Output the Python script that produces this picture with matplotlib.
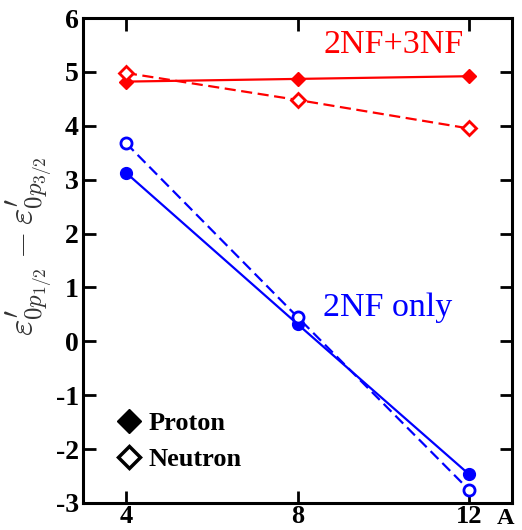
import matplotlib
matplotlib.use("Agg")
import matplotlib.pyplot as plt
from matplotlib.lines import Line2D

plt.rcParams['font.family'] = ['Liberation Serif', 'DejaVu Serif']
plt.rcParams['mathtext.fontset'] = 'cm'

# Data
mass_A = [4, 8, 12]
red_proton = [4.82, 4.87, 4.92]
red_neutron = [4.98, 4.48, 3.95]
blue_proton = [3.13, 0.32, -2.47]
blue_neutron = [3.68, 0.45, -2.76]

yticks = [-3, -2, -1, 0, 1, 2, 3, 4, 5, 6]
ytick_labels = ['-3', '-2', '-1', '0', '1', '2', '3', '4', '5', '6']

lw = 1.6
fig = plt.figure(figsize=(5.22, 5.30), dpi=100)
ax = fig.add_axes([0.159, 0.051, 0.822, 0.915])

red = '#ff0000'
blue = '#0000ff'
dash = (0, (5, 2.5))

ax.plot(mass_A, red_proton, color=red, lw=lw, marker='D', ms=7.5, mfc=red, mec=red)
ax.plot(mass_A, red_neutron, color=red, lw=lw, ls=dash, marker='D', ms=7,
        mfc='white', mec=red, mew=2)
ax.plot(mass_A, blue_proton, color=blue, lw=lw, marker='o', ms=8.5, mfc=blue, mec=blue)
ax.plot(mass_A, blue_neutron, color=blue, lw=lw, ls=dash, marker='o', ms=8,
        mfc='white', mec=blue, mew=2)

ax.text(0.561, 0.928, '2NF+3NF', color=red, fontsize=24.5, transform=ax.transAxes)
ax.text(0.56, 0.385, '2NF only', color=blue, fontsize=24.5, transform=ax.transAxes)

ax.set_xlim(3, 13)
ax.set_ylim(-3, 6)
ax.set_xticks(mass_A)
ax.set_xticklabels([str(a) for a in mass_A], fontsize=19, fontweight='bold')
ax.set_yticks(yticks)
ax.set_yticklabels(ytick_labels, fontsize=20, fontweight='bold')

ax.tick_params(direction='in', length=9, width=2, top=True, right=True, pad=3)
ax.tick_params(axis='x', pad=1.5)
for s in ax.spines.values():
    s.set_linewidth(2.2)

ax.set_ylabel(r"$\varepsilon^{\prime}_{0p_{1/2}}-\varepsilon^{\prime}_{0p_{3/2}}$",
              fontsize=25.5, color='#333333')
ax.yaxis.set_label_coords(-0.065, 0.53)
ax.text(0.985, -0.043, 'A', fontsize=17.5, fontweight='bold', transform=ax.transAxes,
        ha='center', va='baseline')

handles = [
    Line2D([], [], ls='none', marker='D', ms=12, color='black'),
    Line2D([], [], ls='none', marker='D', ms=11, mfc='white', mec='black', mew=2.5),
]
ax.legend(handles, ['Proton', 'Neutron'], loc='lower left', frameon=False,
          prop={'weight': 'bold', 'size': 19}, handletextpad=0.0,
          borderaxespad=0.6, labelspacing=0.45, handlelength=1.5,
          bbox_to_anchor=(0.0, 0.012))

fig.savefig('out.png', dpi=100)
